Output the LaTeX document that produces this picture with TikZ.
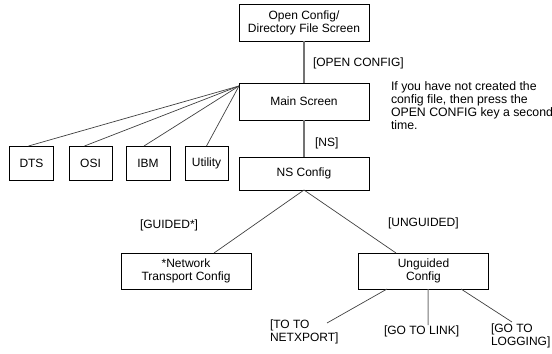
\documentclass[tikz,border=0pt]{standalone}
\usepackage{fontspec}
\setmainfont{Liberation Sans}
\usetikzlibrary{calc}
\begin{document}
\begin{tikzpicture}[x=1bp,y=-1bp,
  every node/.style={font=\fontsize{12bp}{12.8bp}\selectfont, inner sep=0pt, outer sep=0pt},
  box/.style={draw=black, line width=0.8bp, align=center, anchor=center},
  lbl/.style={anchor=west, align=left},
  conn/.style={draw=black!75, line width=0.7bp},
  trunk/.style={draw=black!55, line width=1.3bp}]
\useasboundingbox (0,0) rectangle (552,353);
% boxes
\node[box, minimum width=130bp, minimum height=37bp] (top) at (304,22.5) {Open Config/\\Directory File Screen};
\node[box, minimum width=130bp, minimum height=37bp] (main) at (304,101.5) {Main Screen};
\node[box, minimum width=130bp, minimum height=33bp] (ns) at (304,173.5) {NS Config};
\node[box, minimum width=44bp, minimum height=34bp] (dts) at (31.5,163) {DTS};
\node[box, minimum width=43bp, minimum height=34bp] (osi) at (90.5,163) {OSI};
\node[box, minimum width=44bp, minimum height=34bp] (ibm) at (148,163) {IBM};
\node[box, minimum width=43bp, minimum height=34bp] (util) at (206.5,163) {Utility};
\node[box, minimum width=130bp, minimum height=36bp] (net) at (186,271) {*Network\\Transport Config};
\node[box, minimum width=130bp, minimum height=36bp] (ung) at (423.5,271) {Unguided\\Config};
% labels
\node[lbl] (lopen) at (313,63) {[OPEN CONFIG]};
\node[lbl] (lns) at (315,143) {[NS]};
\node[lbl] (lguided) at (140,225) {[GUIDED*]};
\node[lbl] (lunguided) at (388,223) {[UNGUIDED]};
\node[anchor=north west, align=left, font=\fontsize{12.3bp}{12.7bp}\selectfont] (note) at (391,82)
  {If you have not created the\\config file, then press the\\OPEN CONFIG key a second\\time.};
\node[lbl] (lnetx) at (270,332) {[TO TO\\NETXPORT]};
\node[lbl] (llink) at (384,331) {[GO TO LINK]};
\node[lbl] (llog) at (491,336) {[GO TO\\LOGGING]};
% connectors
\draw[trunk] (top.south) -- (main.north);
\draw[trunk] (main.south) -- (ns.north);
\coordinate (fan) at (239,86);
\draw[conn] (fan) -- ($(dts.north)+(-3,0)$);
\draw[conn] (fan) -- ($(osi.north)+(-6,0)$);
\draw[conn] (fan) -- ($(ibm.north)+(-4,0)$);
\draw[conn] (fan) -- (util.north);
\draw[conn] (ns.south) -- ($(net.north)+(28,0)$);
\draw[conn] (ns.south) -- ($(ung.north)+(-27.5,0)$);
\coordinate (e1) at (327,323);
\coordinate (e2) at (428,325);
\coordinate (e3) at (512,322);
\draw[conn] ($(ung.south)+(-36.5,0)$) -- (e1);
\draw[trunk, line width=1bp] ($(ung.south)+(4.5,0)$) -- (e2);
\draw[conn] ($(ung.south)+(37.5,0)$) -- (e3);
\end{tikzpicture}
\end{document}
